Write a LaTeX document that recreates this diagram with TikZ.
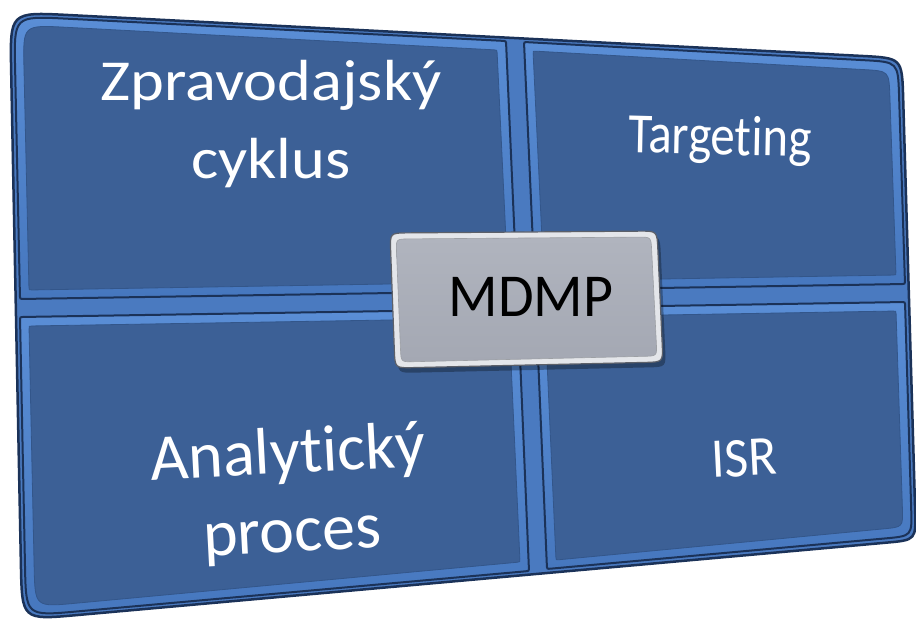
\documentclass[tikz,border=0pt]{standalone}
\usepackage{fontspec}
\setmainfont{Carlito}[Ligatures=NoCommon]
\usetikzlibrary{calc}
\definecolor{face}{HTML}{3C6096}
\definecolor{facedge}{HTML}{33568A}
\definecolor{bevel}{HTML}{4677BE}
\definecolor{bevellight}{HTML}{5A8ED6}
\definecolor{groove}{HTML}{1B3258}
\definecolor{rim}{HTML}{4A7AC0}
\definecolor{mface}{HTML}{A4A8B3}
\definecolor{mfacetop}{HTML}{B0B4BE}
\definecolor{mrim}{HTML}{E4E6EA}
\definecolor{mline}{HTML}{5C6069}
\newcommand{\roundquad}[9]{%
  \path[#1] ($(#2)!#6!(#3)$) -- ($(#3)!#7!(#2)$) .. controls (#3) .. ($(#3)!#7!(#4)$)
   -- ($(#4)!#8!(#3)$) .. controls (#4) .. ($(#4)!#8!(#5)$)
   -- ($(#5)!#9!(#4)$) .. controls (#5) .. ($(#5)!#9!(#2)$)
   -- ($(#2)!#6!(#5)$) .. controls (#2) .. ($(#2)!#6!(#3)$) -- cycle;}
\newcommand{\insetcell}[2]{%
  \coordinate (#1i1) at ($(#11)+(#2,#2)$);
  \coordinate (#1i2) at ($(#12)+(-#2,#2)$);
  \coordinate (#1i3) at ($(#13)+(-#2,-#2)$);
  \coordinate (#1i4) at ($(#14)+(#2,-#2)$);}
\begin{document}
\begin{tikzpicture}[x=1pt,y=-1pt,
  txt/.style={text=white, inner sep=0pt, align=center},
  cellouter/.style={top color=bevellight, bottom color=bevel, draw=groove, line width=2pt},
  cellface/.style={fill=face, draw=facedge, line width=0.8pt}]
\useasboundingbox (0,0) rectangle (916,625);
\fill[white] (0,0) rectangle (916,625);
% panel
\coordinate (P1) at (10,12);
\coordinate (P2) at (902,58);
\coordinate (P3) at (916,540);
\coordinate (P4) at (22,620);
\roundquad{fill=rim, draw=groove, line width=2.5pt}{P1}{P2}{P3}{P4}{58pt}{40pt}{30pt}{55pt}
% cells
\coordinate (A1) at (14,16);  \coordinate (A2) at (506,41);
\coordinate (A3) at (517,291); \coordinate (A4) at (20,299);
\coordinate (B1) at (524,42); \coordinate (B2) at (898,62);
\coordinate (B3) at (905,284); \coordinate (B4) at (535,290);
\coordinate (C1) at (20,317); \coordinate (C2) at (518,309);
\coordinate (C3) at (529,571); \coordinate (C4) at (26,616);
\coordinate (D1) at (536,308); \coordinate (D2) at (905,302);
\coordinate (D3) at (912,536); \coordinate (D4) at (547,569);
\insetcell{A}{9}\insetcell{B}{9}\insetcell{C}{9}\insetcell{D}{9}
\roundquad{cellouter}{A1}{A2}{A3}{A4}{52pt}{4pt}{4pt}{4pt}
\roundquad{cellouter}{B1}{B2}{B3}{B4}{4pt}{34pt}{4pt}{4pt}
\roundquad{cellouter}{C1}{C2}{C3}{C4}{4pt}{4pt}{4pt}{50pt}
\roundquad{cellouter}{D1}{D2}{D3}{D4}{4pt}{4pt}{27pt}{4pt}
\roundquad{cellface}{Ai1}{Ai2}{Ai3}{Ai4}{42pt}{3pt}{3pt}{3pt}
\roundquad{cellface}{Bi1}{Bi2}{Bi3}{Bi4}{3pt}{25pt}{3pt}{3pt}
\roundquad{cellface}{Ci1}{Ci2}{Ci3}{Ci4}{3pt}{3pt}{3pt}{40pt}
\roundquad{cellface}{Di1}{Di2}{Di3}{Di4}{3pt}{3pt}{19pt}{3pt}
% MDMP box
\coordinate (M1) at (390,233); \coordinate (M2) at (657,231);
\coordinate (M3) at (663,362); \coordinate (M4) at (395,368);
\insetcell{M}{6}
\coordinate (S1) at ($(M1)+(3,5)$); \coordinate (S2) at ($(M2)+(3,5)$);
\coordinate (S3) at ($(M3)+(3,5)$); \coordinate (S4) at ($(M4)+(3,5)$);
\roundquad{fill=black, opacity=0.3}{S1}{S2}{S3}{S4}{18pt}{18pt}{18pt}{18pt}
\roundquad{fill=mrim, draw=mline, line width=1.2pt}{M1}{M2}{M3}{M4}{18pt}{18pt}{18pt}{18pt}
\roundquad{top color=mfacetop, bottom color=mface, draw=mline!60, line width=0.6pt}{Mi1}{Mi2}{Mi3}{Mi4}{13pt}{13pt}{13pt}{13pt}
% texts
\node[txt, font=\fontsize{58}{78}\selectfont, xscale=1.11] (zc) at (271,124) {Zpravodajský\\cyklus};
\node[txt, font=\fontsize{57}{68}\selectfont, xscale=0.86, rotate=-1.3] (tg) at (720,140) {Targeting};
\node[txt, font=\fontsize{66}{79}\selectfont, rotate=3] (ap) at (290,495) {Analytický\\proces};
\node[txt, font=\fontsize{56}{67}\selectfont, xscale=0.93, rotate=3] (isr) at (744,458) {ISR};
\node[inner sep=0pt, text=black, font=\fontsize{61}{73}\selectfont, xscale=0.95] (mdmp) at (531,297) {MDMP};
\end{tikzpicture}
\end{document}
